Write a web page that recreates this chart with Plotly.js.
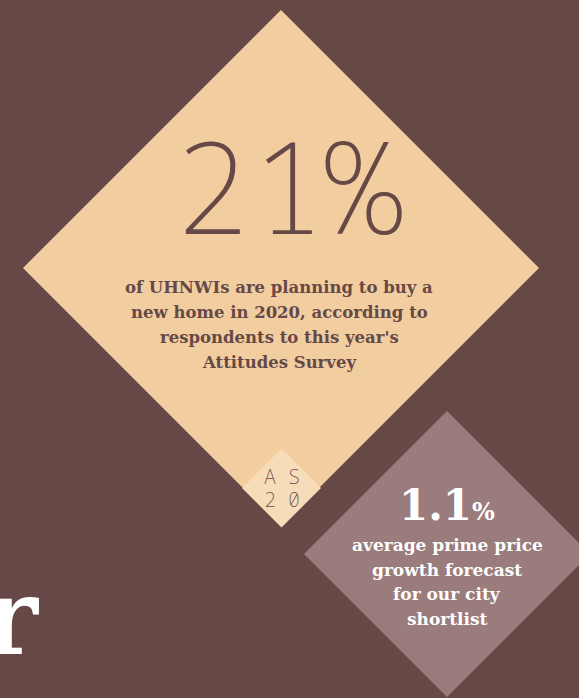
<!DOCTYPE html>
<html>
<head>
<meta charset="utf-8">
<script src="https://cdn.plot.ly/plotly-3.0.1.min.js"></script>
<style>html,body{margin:0;padding:0;background:#664947;}#chart{width:579px;height:698px;}</style>
</head>
<body>
<div id="chart"></div>
<script>
// ---- content ----
const headlineValue = 21;          // % of UHNWIs planning to buy a new home in 2020
const headlineLines = ["of UHNWIs are planning to buy a", "new home in 2020, according to", "respondents to this year's", "Attitudes Survey"];
const badgeLines = ["AS", "20"];
const forecastValue = 1.1;         // % average prime price growth forecast
const forecastLines = ["average prime price", "growth forecast", "for our city", "shortlist"];
const sideLetter = "r";

// ---- styles ----
const BG = "#664947", PEACH = "#F2CDA0", LIGHT = "#F7DCBA", MAUVE = "#9A7C7D";
const SERIF = "DejaVu Serif", MONO = "Noto Sans Mono";

function diamond(cx, cy, h, color) {
  return {type: "path", xref: "x", yref: "y",
    path: `M ${cx} ${cy - h} L ${cx + h} ${cy} L ${cx} ${cy + h} L ${cx - h} ${cy} Z`,
    fillcolor: color, line: {width: 0}, layer: "below"};
}

const annotations = [];
annotations.push({x: 287.5, y: 184, xref: "x", yref: "y", text: headlineValue + "%", showarrow: false,
  xanchor: "center", yanchor: "middle",
  font: {family: MONO, weight: 200, size: 127, color: BG}});
headlineLines.forEach((t, i) => annotations.push({x: 279, y: 287 + i * 25, xref: "x", yref: "y", text: t,
  showarrow: false, xanchor: "center", yanchor: "middle", font: {family: SERIF, weight: 700, size: 16.5, color: BG}}));
badgeLines.forEach((t, i) => annotations.push({x: 281.5, y: 476 + i * 23, xref: "x", yref: "y", text: t.split("").join("\u2009"),
  showarrow: false, xanchor: "center", yanchor: "middle", font: {family: MONO, weight: 200, size: 20, color: BG}}));
annotations.push({x: 447, y: 505, xref: "x", yref: "y",
  text: forecastValue + "<span style='font-size:24px'>%</span>", showarrow: false,
  xanchor: "center", yanchor: "middle", font: {family: SERIF, weight: 700, size: 42, color: "#FFFFFF"}});
forecastLines.forEach((t, i) => annotations.push({x: 447, y: 545 + i * 24.5, xref: "x", yref: "y", text: t,
  showarrow: false, xanchor: "center", yanchor: "middle", font: {family: SERIF, weight: 700, size: 17, color: "#FFFFFF"}}));
annotations.push({x: 41, y: 616, xref: "x", yref: "y", text: "<b>" + sideLetter + "</b>", showarrow: false,
  xanchor: "right", yanchor: "middle", font: {family: SERIF, weight: 700, size: 106, color: "#FFFFFF"}});

const layout = {
  width: 579, height: 698, autosize: false,
  margin: {l: 0, r: 0, t: 0, b: 0, pad: 0},
  paper_bgcolor: BG, plot_bgcolor: BG,
  showlegend: false,
  xaxis: {range: [0, 579], visible: false, fixedrange: true},
  yaxis: {range: [698, 0], visible: false, fixedrange: true},
  shapes: [diamond(281, 268, 258, PEACH), diamond(281.5, 488, 39.5, LIGHT), diamond(447, 554, 143, MAUVE)],
  annotations: annotations
};
Plotly.newPlot("chart", [], layout, {staticPlot: true, displayModeBar: false});
</script>
</body>
</html>
